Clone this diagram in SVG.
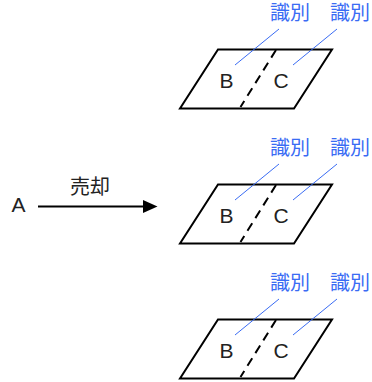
<svg xmlns="http://www.w3.org/2000/svg" width="372" height="382" viewBox="0 0 372 382">
<style>
.sheet{fill:#fff;stroke:#000;stroke-width:2;stroke-linejoin:miter}
.fold{stroke:#000;stroke-width:2;stroke-dasharray:9 6;fill:none}
.lbl{font-family:"Liberation Sans",Arial,sans-serif;font-size:21px;fill:#222}
.id{font-family:"Noto Sans CJK JP","Noto Sans",sans-serif;font-size:20px;fill:#3a6cf4}
.jp{font-family:"Noto Sans CJK JP","Noto Sans",sans-serif;font-size:20px;fill:#222}
.lead{stroke:#3a6cf4;stroke-width:1;fill:none}
.arr{stroke:#000;stroke-width:2;fill:none}
</style>
<defs>
<g id="sheetShape">
<polygon class="sheet" points="218,49.5 332,49.5 294,108.5 180,108.5"/>
<line class="fold" x1="276" y1="50" x2="240.5" y2="107"/>
<text class="lbl" x="219.5" y="88">B</text>
<text class="lbl" x="273.5" y="88">C</text>
<text class="id" x="270" y="20">識別</text>
<text class="id" x="330" y="20">識別</text>
</g>
</defs>
<g id="node-A"><text class="lbl" x="11.5" y="212">A</text></g>
<g id="sheet1"><use href="#sheetShape"/></g>
<g id="sheet2" transform="translate(0,135)"><use href="#sheetShape"/></g>
<g id="sheet3" transform="translate(0,270)"><use href="#sheetShape"/></g>
<g id="connectors">
<line class="arr" x1="38" y1="206.5" x2="145" y2="206.5"/>
<polygon points="143,200 157.5,206.5 143,213" fill="#000"/>
<text class="jp" x="70" y="193.5">売却</text>
<g class="lead">
<line x1="279" y1="29" x2="235" y2="65"/>
<line x1="337" y1="29" x2="293" y2="65"/>
<line x1="279" y1="164" x2="235" y2="200"/>
<line x1="337" y1="164" x2="293" y2="200"/>
<line x1="279" y1="299" x2="235" y2="335"/>
<line x1="337" y1="299" x2="293" y2="335"/>
</g>
</g>
</svg>
